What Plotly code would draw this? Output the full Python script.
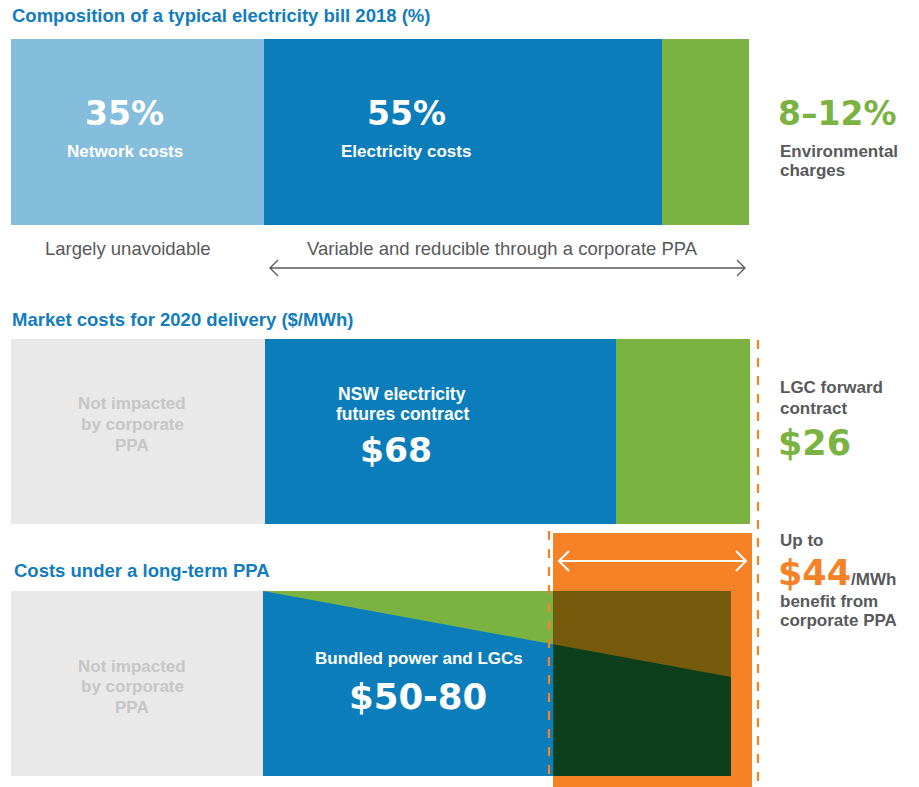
import plotly.graph_objects as go

# ---------------- data ----------------
bill_labels = ["Network costs", "Electricity costs", "Environmental charges"]
bill_shares = [35, 55, 12]          # % of a typical bill (env. charges 8-12%)
market_labels = ["Not impacted", "NSW electricity futures contract", "LGC forward contract"]
market_costs = [49.1, 68, 26]       # $/MWh (first = not impacted, drawn to match row above)
ppa_labels = ["Not impacted", "Bundled power and LGCs"]
ppa_shares = [35, 65]               # width share of the PPA row
lgc_share_end = [0.0, 0.465]        # green wedge depth at start / end of the bundle
benefit_from = 75.3                 # start of the PPA benefit window (row-3 scale)
benefit_max = 44                    # $/MWh

W, H = 919, 787
def px(x): return x / W
def py(y): return 1 - y / H

C_LBLUE = "#85bddc"
C_BLUE = "#0c7dbb"
C_GREEN = "#7ab342"
C_GREY = "#e9e9e9"
C_ORANGE = "#f58226"
C_DARK = "#58595b"
C_LGREY = "#c6c6c6"
C_TITLE = "#127cbf"
C_OVER_G = "#755b0b"
C_OVER_B = "#0d3f1c"

SANS = "Liberation Sans, Arial, sans-serif"
BIG = "DejaVu Sans, sans-serif"

fig = go.Figure()

def add_row(values, colors, xa, ya):
    base = 0
    for v, c in zip(values, colors):
        fig.add_trace(go.Bar(orientation="h", x=[v], y=[0.5], base=[base], width=[1],
                             marker=dict(color=c, line=dict(width=0)),
                             xaxis=xa, yaxis=ya, hoverinfo="skip", showlegend=False))
        base += v

add_row(bill_shares, [C_LBLUE, C_BLUE, C_GREEN], "x", "y")
add_row(market_costs, [C_GREY, C_BLUE, C_GREEN], "x2", "y2")
add_row(ppa_shares, [C_GREY, C_BLUE], "x3", "y3")

# green wedge (LGC portion) in the PPA row
x0 = ppa_shares[0]
x1 = sum(ppa_shares)
def wedge_y(x):
    t = (x - x0) / (x1 - x0)
    return 1 - (lgc_share_end[0] + t * (lgc_share_end[1] - lgc_share_end[0]))
fig.add_trace(go.Scatter(x=[x0, x1, x1, x0], y=[1, 1, wedge_y(x1), 1], fill="toself",
                         fillcolor=C_GREEN, mode="lines", line=dict(width=0),
                         xaxis="x3", yaxis="y3", hoverinfo="skip", showlegend=False))
# benefit overlay (orange multiplied)
fig.add_trace(go.Scatter(x=[benefit_from, x1, x1, benefit_from, benefit_from],
                         y=[0, 0, 1, 1, 0], fill="toself", fillcolor=C_OVER_B, mode="lines",
                         line=dict(width=0), xaxis="x3", yaxis="y3",
                         hoverinfo="skip", showlegend=False))
fig.add_trace(go.Scatter(x=[benefit_from, x1, x1, benefit_from, benefit_from],
                         y=[1, 1, wedge_y(x1), wedge_y(benefit_from), 1], fill="toself",
                         fillcolor=C_OVER_G, mode="lines", line=dict(width=0),
                         xaxis="x3", yaxis="y3", hoverinfo="skip", showlegend=False))

ax = dict(visible=False, fixedrange=True)
fig.update_layout(
    width=W, height=H, margin=dict(l=0, r=0, t=0, b=0),
    paper_bgcolor="white", plot_bgcolor="rgba(0,0,0,0)",
    barmode="overlay", bargap=0, showlegend=False,
    xaxis=dict(ax, domain=[px(11), px(749)], range=[0, sum(bill_shares)], anchor="y"),
    yaxis=dict(ax, domain=[py(225), py(39)], range=[0, 1], anchor="x"),
    xaxis2=dict(ax, domain=[px(11), px(750)], range=[0, sum(market_costs)], anchor="y2"),
    yaxis2=dict(ax, domain=[py(524), py(339)], range=[0, 1], anchor="x2"),
    xaxis3=dict(ax, domain=[px(11), px(731)], range=[0, sum(ppa_shares)], anchor="y3"),
    yaxis3=dict(ax, domain=[py(776), py(591)], range=[0, 1], anchor="x3"),
)

shapes = []
# orange benefit box
shapes.append(dict(type="rect", xref="paper", yref="paper", x0=px(553), x1=px(752),
                   y0=py(787), y1=py(533), fillcolor=C_ORANGE, line=dict(width=0), layer="below"))
# dashed lines
shapes.append(dict(type="line", xref="paper", yref="paper", x0=px(549), x1=px(549),
                   y0=py(531), y1=py(777), line=dict(color=C_ORANGE, width=2.2, dash="dash")))
shapes.append(dict(type="line", xref="paper", yref="paper", x0=px(758), x1=px(758),
                   y0=py(340), y1=py(787), line=dict(color=C_ORANGE, width=2.2, dash="dash")))

def dbl_arrow(xa, xb, y, color, width, h):
    path = (f"M {px(xa)},{py(y)} L {px(xb)},{py(y)} "
            f"M {px(xa + h)},{py(y - h)} L {px(xa)},{py(y)} L {px(xa + h)},{py(y + h)} "
            f"M {px(xb - h)},{py(y - h)} L {px(xb)},{py(y)} L {px(xb - h)},{py(y + h)}")
    return dict(type="path", xref="paper", yref="paper", path=path,
                line=dict(color=color, width=width))
shapes.append(dbl_arrow(270, 745, 268, C_DARK, 1.3, 8))
shapes.append(dbl_arrow(559, 746, 561, "white", 2, 10))
fig.update_layout(shapes=shapes)

anns = []
def T(text, x, y, size, color, family=SANS, xanchor="left", bold=True):
    t = f"<b>{text}</b>" if bold else text
    anns.append(dict(text=t, x=px(x), y=py(y), xref="paper", yref="paper",
                     xanchor=xanchor, yanchor="middle", showarrow=False,
                     font=dict(size=size, color=color, family=family), align=xanchor))

# section titles
T("Composition of a typical electricity bill 2018 (%)", 10, 16, 18.5, C_TITLE)
T("Market costs for 2020 delivery ($/MWh)", 10, 320, 18.5, C_TITLE)
T("Costs under a long-term PPA", 12, 570, 18.5, C_TITLE)

# row 1
T(f"{bill_shares[0]}%", 124, 113, 33, "white", BIG, "center")
T(bill_labels[0], 125, 151, 17, "white", SANS, "center")
T(f"{bill_shares[1]}%", 406, 113, 33, "white", BIG, "center")
T(bill_labels[1], 406, 151, 17, "white", SANS, "center")
T("8–12%", 776, 113, 33, C_GREEN, BIG)
T("Environmental", 778, 151, 17, C_DARK)
T("charges", 778, 171, 17, C_DARK)
T("Largely unavoidable", 128, 248, 18.5, C_DARK, SANS, "center", bold=False)
T("Variable and reducible through a corporate PPA", 502, 248, 18.5, C_DARK, SANS, "center", bold=False)

# row 2
for i, s in enumerate(["Not impacted", "by corporate", "PPA"]):
    T(s, 132, 404 + 20.5 * i, 17, C_LGREY, SANS, "center")
    T(s, 132, 666 + 20.5 * i, 17, C_LGREY, SANS, "center")
T("NSW electricity", 402, 394, 17.5, "white", SANS, "center")
T("futures contract", 402, 414, 17.5, "white", SANS, "center")
T(f"${market_costs[1]:.0f}", 396, 450, 34.5, "white", BIG, "center")
T("LGC forward", 778, 387, 17, C_DARK)
T("contract", 778, 408, 17, C_DARK)
T(f"${market_costs[2]:.0f}", 776, 443, 35, C_GREEN, BIG)

# row 3
T(ppa_labels[1], 419, 658, 17, "white", SANS, "center")
T("$50-80", 418, 696, 35.5, "white", BIG, "center")
T("Up to", 778, 540, 17, C_DARK)
anns.append(dict(text=f"<b>${benefit_max}</b><span style='font-family:Liberation Sans;font-size:17px;color:{C_DARK};font-weight:bold'>/MWh</span>",
                 x=px(776), y=py(573), xref="paper", yref="paper", xanchor="left",
                 yanchor="middle", showarrow=False,
                 font=dict(size=35, color=C_ORANGE, family=BIG)))
T("benefit from", 778, 601, 17, C_DARK)
T("corporate PPA", 778, 620, 17, C_DARK)

fig.update_layout(annotations=anns)
fig.write_html("out.html", config={"displayModeBar": False},
               post_script="document.body.style.margin='0';")
